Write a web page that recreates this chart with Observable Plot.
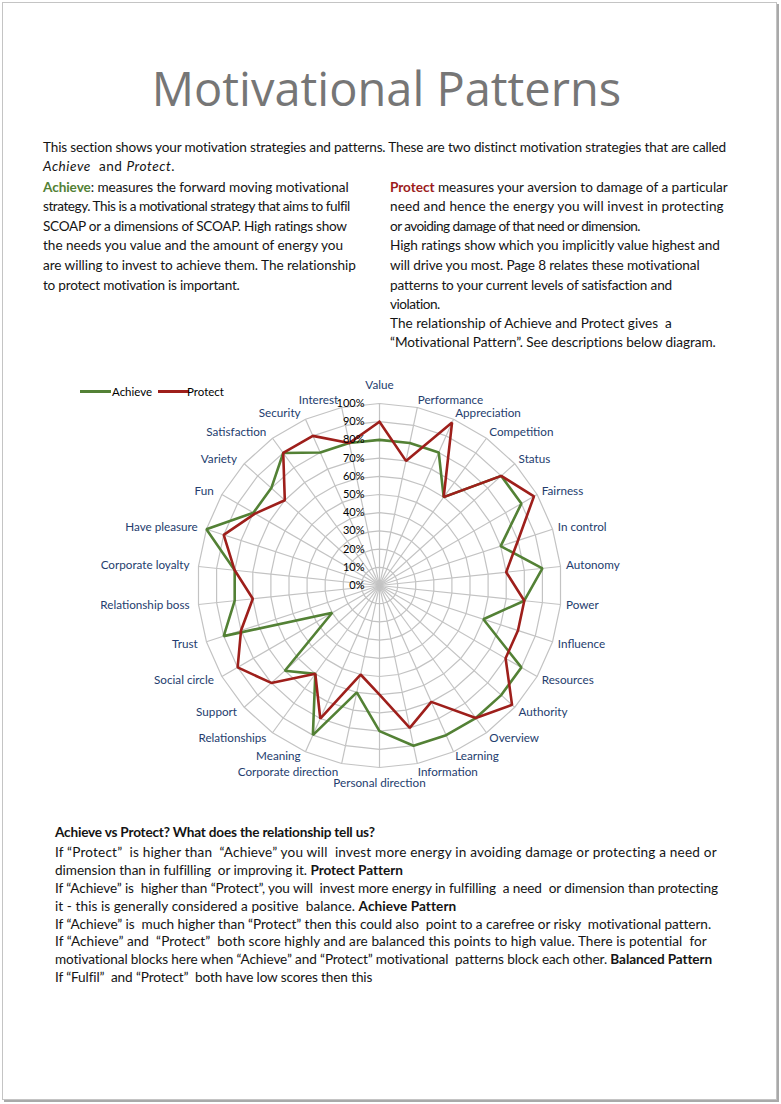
<!DOCTYPE html>
<html><head><meta charset="utf-8">
<script src="https://cdn.jsdelivr.net/npm/d3@7"></script>
<script src="https://cdn.jsdelivr.net/npm/@observablehq/plot@0.6"></script>
<style>
html,body{margin:0;padding:0;background:#fff;}
#page{position:relative;width:781px;height:1104px;overflow:hidden;background:#fff;}
#frame{position:absolute;left:2px;top:2px;width:773px;height:1096px;border:1px solid #c4c4c4;box-shadow:2px 2px 0 #a9a9a9;}
#title{position:absolute;left:0;width:773px;top:58px;text-align:center;font-family:"Open Sans",sans-serif;font-size:47px;color:#767676;line-height:60px;}
.t{position:absolute;white-space:nowrap;font-family:"Lato",sans-serif;font-size:13.6px;color:#141414;line-height:18px;}
.g{color:#538135;font-weight:bold;}
.r{color:#9c1c1c;font-weight:bold;}
#chart{position:absolute;left:0;top:360px;}
.leg{position:absolute;font-family:Lato,sans-serif;font-size:11.5px;color:#000;line-height:14px;white-space:nowrap;}
.legline{position:absolute;height:3px;}
</style></head>
<body><div id="page"><div id="frame"></div>
<div id="title">Motivational Patterns</div>
<div id="chart"></div>
</div>
<script>
// ---------------- data ----------------
const categories = ["Value","Performance","Appreciation","Competition","Status","Fairness","In control","Autonomy","Power","Influence","Resources","Authority","Overview","Learning","Information","Personal direction","Corporate direction","Meaning","Relationships","Support","Social circle","Trust","Relationship boss","Corporate loyalty","Have pleasure","Fun","Variety","Satisfaction","Security","Interest"];
const achieve = [80,80,80,60,90,90,70,90,80,60,90,90,90,90,90,80,60,90,60,70,30,90,80,80,100,80,80,90,80,80];
const protect = [90,70,98,60,90,98,80,70,80,80,80,98,90,70,80,60,50,80,60,80,90,80,70,80,90,79,70,90,90,80];
const seriesNames = ["Achieve","Protect"];
const seriesColors = ["#538135","#9e1f1b"];
const ticks = [0,10,20,30,40,50,60,70,80,90,100];
const tickLabels = ["0%","10%","20%","30%","40%","50%","60%","70%","80%","90%","100%"];

// x: left edge, y: line centre, e: right edge of the line in the page
const textLines = [
  {y:147,x:43,e:727,h:"This section shows your motivation strategies and patterns. These are two distinct motivation strategies that are called"},
  {y:166,x:43,e:175,h:"<i>Achieve</i>&nbsp; and <i>Protect</i>."},
  {y:187,x:43,e:349,h:"<span class='g'>Achieve</span>: measures the forward moving motivational"},
  {y:206,x:43,e:350,h:"strategy. This is a motivational strategy that aims to fulfil"},
  {y:226,x:43,e:347,h:"SCOAP or a dimensions of SCOAP. High ratings show"},
  {y:245,x:43,e:343,h:"the needs you value and the amount of energy you"},
  {y:265,x:43,e:356,h:"are willing to invest to achieve them. The relationship"},
  {y:285,x:43,e:240,h:"to protect motivation is important."},
  {y:187,x:390,e:728,h:"<span class='r'>Protect</span> measures your aversion to damage of a particular"},
  {y:206,x:390,e:724,h:"need and hence the energy you will invest in protecting"},
  {y:226,x:390,e:640,h:"or avoiding damage of that need or dimension."},
  {y:245,x:390,e:720,h:"High ratings show which you implicitly value highest and"},
  {y:265,x:390,e:700,h:"will drive you most. Page 8 relates these motivational"},
  {y:285,x:390,e:672,h:"patterns to your current levels of satisfaction and"},
  {y:304,x:390,e:440,h:"violation."},
  {y:323,x:390,e:672,h:"The relationship of Achieve and Protect gives&nbsp; a"},
  {y:342,x:390,e:716,h:"“Motivational Pattern”. See descriptions below diagram."},
  {y:832,x:55,e:375,h:"<b>Achieve vs Protect? What does the relationship tell us?</b>"},
  {y:852,x:55,e:717,h:"If “Protect”&nbsp; is higher than&nbsp; “Achieve” you will&nbsp; invest more energy in avoiding damage or protecting a need or"},
  {y:870,x:55,e:402,h:"dimension than in fulfilling&nbsp; or improving it. <b>Protect Pattern</b>"},
  {y:888,x:55,e:718,h:"If “Achieve” is&nbsp; higher than “Protect”, you will&nbsp; invest more energy in fulfilling&nbsp; a need&nbsp; or dimension than protecting"},
  {y:906,x:55,e:456,h:"it - this is generally considered a positive&nbsp; balance. <b>Achieve Pattern</b>"},
  {y:924,x:55,e:711,h:"If “Achieve” is&nbsp; much higher than “Protect” then this could also&nbsp; point to a carefree or risky&nbsp; motivational pattern."},
  {y:941,x:55,e:707,h:"If “Achieve” and&nbsp; “Protect”&nbsp; both score highly and are balanced this points to high value. There is potential&nbsp; for"},
  {y:959,x:55,e:712,h:"motivational blocks here when “Achieve” and “Protect” motivational&nbsp; patterns block each other. <b>Balanced Pattern</b>"},
  {y:977,x:55,e:372,h:"If “Fulfil”&nbsp; and “Protect”&nbsp; both have low scores then this"}
];

// ---------------- text ----------------
const page = document.getElementById("page");
for (const l of textLines) {
  const d = document.createElement("div");
  d.className = "t"; d.style.left = l.x + "px"; d.style.top = (l.y - 9) + "px";
  d.innerHTML = l.h; page.appendChild(d);
  const w = d.getBoundingClientRect().width;
  const n = d.textContent.length;
  const target = l.e - l.x;
  if (n > 1) d.style.letterSpacing = ((target - w) / n).toFixed(3) + "px";
}
// legend
[[80,112,0],[158,187,1]].forEach(([lx,tx,k]) => {
  const ln = document.createElement("div"); ln.className = "legline";
  ln.style.left = lx + "px"; ln.style.top = "390px"; ln.style.width = "31px"; ln.style.background = seriesColors[k];
  page.appendChild(ln);
  const tt = document.createElement("div"); tt.className = "leg";
  tt.style.left = tx + "px"; tt.style.top = "384.5px"; tt.textContent = seriesNames[k];
  page.appendChild(tt);
});

// ---------------- chart ----------------
const N = categories.length;
const R = 182, W = 781, H = 460, CX = 379, CY = 225;
const ang = i => i * 2 * Math.PI / N;
const px = v => v / R;

const rows = [];
seriesNames.forEach((s, k) => {
  const vals = k === 0 ? achieve : protect;
  for (let i = 0; i <= N; i++) rows.push({series: s, i: i % N, v: vals[i % N] / 100});
});
const rings = [];
ticks.filter(t => t > 0).forEach(t => { for (let i = 0; i <= N; i++) rings.push({t, i: i % N}); });
const spokes = categories.map((c, i) => ({i}));
// small vertical nudges (px, upward positive) for the crowded labels near the bottom
const nudge = {13: 1.5, 17: 1.5, 14: -1.5, 16: -1.5};
const labs = categories.map((c, i) => {
  const s = Math.sin(ang(i)), co = Math.cos(ang(i));
  let x, y, side;
  if (i === 0) { x = 0; y = 1 + px(18); side = "m"; }
  else if (i === N / 2) { x = 0; y = -1 - px(15.5); side = "m"; }
  else if (i < N / 2) { x = s + px(-1 + 6.5 * s); y = co * (1 + px(7)); side = "r"; }
  else { x = s - px(2 + 7 * Math.abs(s)); y = co * (1 + px(7)); side = "l"; }
  y += px(nudge[i] || 0);
  return {c, x, y, side};
});

const font = "Lato, sans-serif";
const chart = Plot.plot({
  width: W, height: H,
  marginLeft: 0, marginRight: 0, marginTop: 0, marginBottom: 0,
  x: {domain: [-CX / R, (W - CX) / R], axis: null},
  y: {domain: [-(H - CY) / R, CY / R], axis: null},
  color: {domain: seriesNames, range: seriesColors},
  style: {fontFamily: font, background: "transparent", overflow: "visible"},
  marks: [
    Plot.link(spokes, {x1: 0, y1: 0, x2: d => Math.sin(ang(d.i)), y2: d => Math.cos(ang(d.i)), stroke: "#c3c3c3", strokeWidth: 1.2}),
    Plot.line(rings, {x: d => d.t / 100 * Math.sin(ang(d.i)), y: d => d.t / 100 * Math.cos(ang(d.i)), z: "t", stroke: "#c3c3c3", strokeWidth: 1.2}),
    Plot.line(rows, {x: d => d.v * Math.sin(ang(d.i)), y: d => d.v * Math.cos(ang(d.i)), z: "series", stroke: "series", strokeWidth: 2.6, strokeLinejoin: "miter"}),
    Plot.text(ticks, {x: px(-15), y: t => t / 100, text: (t, j) => tickLabels[j], textAnchor: "end", fontSize: 11, fill: "#000"}),
    Plot.text(labs.filter(d => d.side === "r"), {x: "x", y: "y", text: "c", textAnchor: "start", fontSize: 11.7, fill: "#243d6e"}),
    Plot.text(labs.filter(d => d.side === "l"), {x: "x", y: "y", text: "c", textAnchor: "end", fontSize: 11.7, fill: "#243d6e"}),
    Plot.text(labs.filter(d => d.side === "m"), {x: "x", y: "y", text: "c", textAnchor: "middle", fontSize: 11.7, fill: "#243d6e"})
  ]
});
document.getElementById("chart").appendChild(chart);
</script>
</body></html>
